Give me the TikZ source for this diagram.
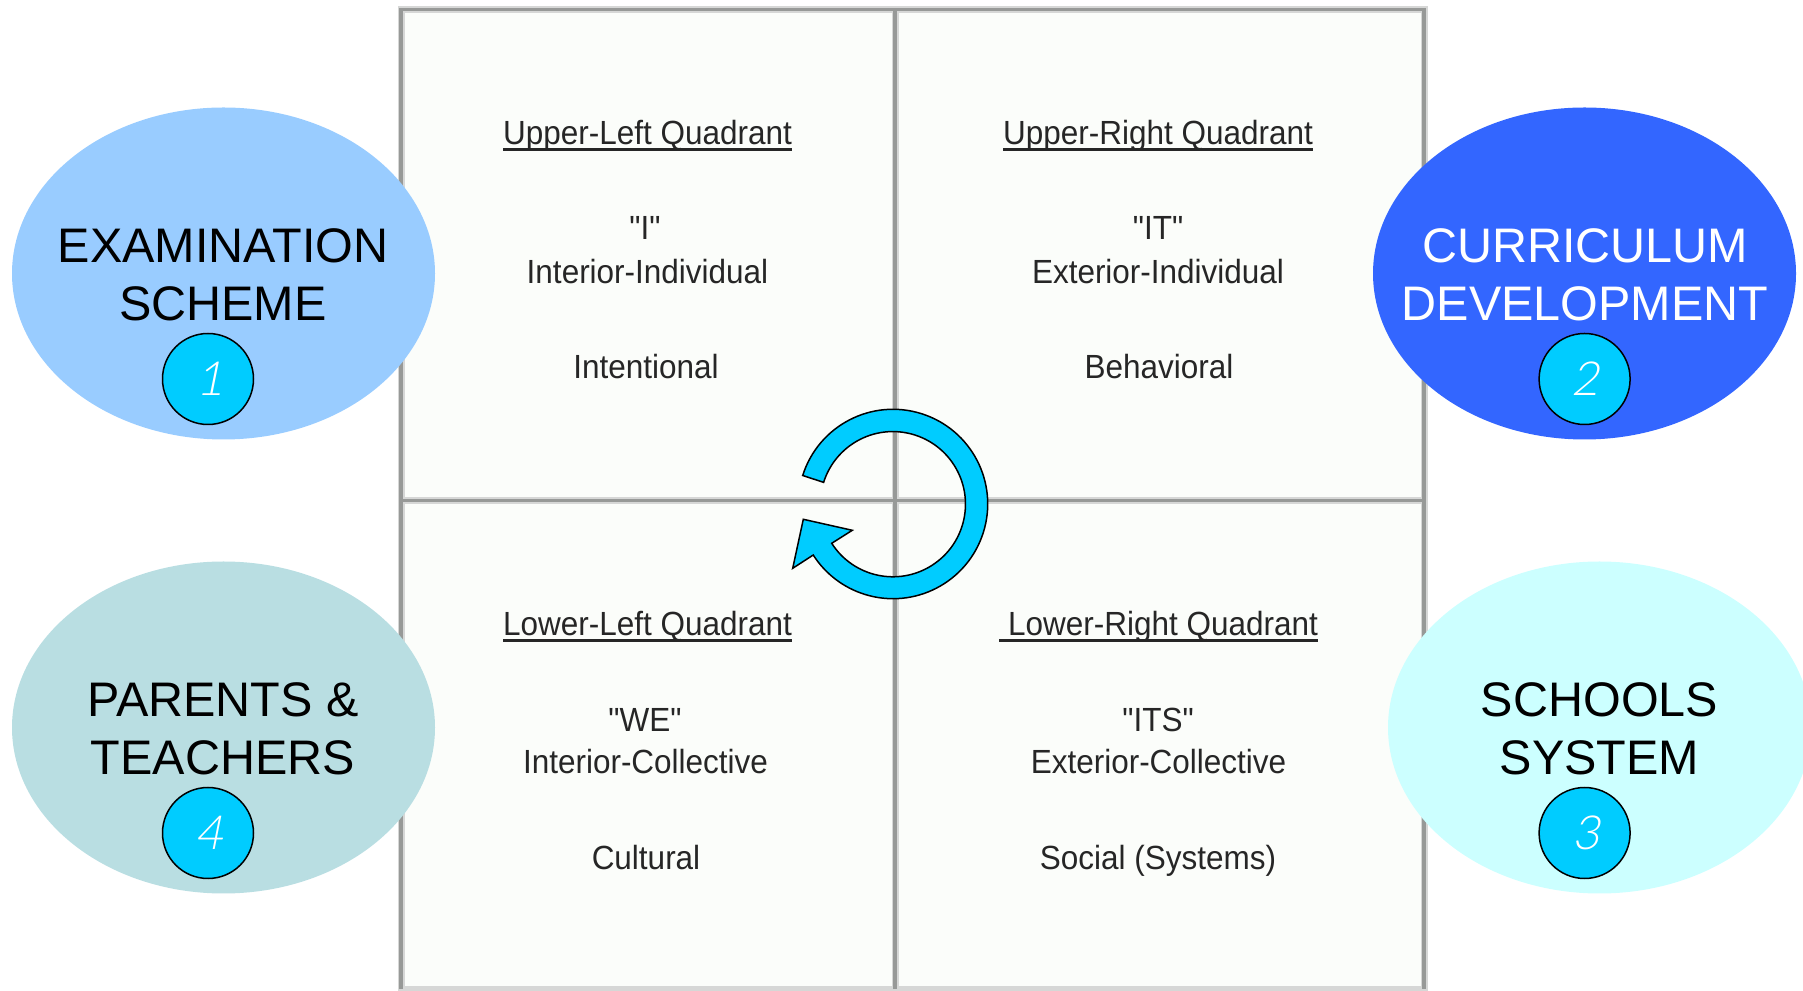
\documentclass[tikz,border=0pt]{standalone}
\usepackage{fontspec}
\setmainfont{Liberation Sans}
\newfontfamily\quadfont[FakeStretch=0.94]{Liberation Sans}
\newfontfamily\badgefont[FakeSlant=0.2]{Lato Light}
\usetikzlibrary{shapes.geometric}
\definecolor{gridhalo}{HTML}{D6D7D6}
\definecolor{gridgray}{HTML}{979997}
\definecolor{panel}{HTML}{FBFDFA}
\definecolor{quadtext}{HTML}{262626}
\definecolor{cyanbadge}{HTML}{00CCFF}
\definecolor{examblue}{HTML}{99CCFF}
\definecolor{currblue}{HTML}{3366FF}
\definecolor{schoolcyan}{HTML}{CCFFFF}
\definecolor{parentteal}{HTML}{B9DEE2}
\newsavebox{\qulbox}
\newcommand{\qul}[1]{\sbox{\qulbox}{#1}\rlap{\rule[-6.5pt]{\wd\qulbox}{3pt}}\usebox{\qulbox}}
\tikzset{
  gridwide/.style={draw=gridhalo,line width=7pt},
  gridline/.style={draw=gridgray,line width=3.4pt},
  blob/.style={ellipse,minimum width=423pt,minimum height=332pt,inner sep=0pt},
  blobtext/.style={anchor=base,inner sep=0pt,font=\fontsize{48.5}{58}\selectfont},
  badge/.style={circle,draw=black,line width=1.5pt,fill=cyanbadge,minimum size=91pt,inner sep=0pt},
  badgedigit/.style={inner sep=0pt,text=white,font=\fontsize{47}{50}\badgefont},
  quadlabel/.style={anchor=base,inner sep=0pt,text=quadtext,font=\fontsize{33.5}{40}\quadfont},
}
\begin{document}
\begin{tikzpicture}[x=1pt,y=1pt]
\useasboundingbox (0,0) rectangle (1803,990);
\clip (0,0) rectangle (1803,990);
% grid
\fill[panel] (401,1) rectangle (1424,980.5);
\draw[gridwide] (401,1) rectangle (1424,980.5) (895,1) -- (895,980.5) (401,489.5) -- (1424,489.5);
\draw[gridline] (401,1) -- (401,980.5) -- (1424,980.5) -- (1424,1) (895,1) -- (895,980.5) (401,489.5) -- (1424,489.5);
% quadrant labels
\node[quadlabel] (ult) at (647.5,845.5) {\qul{Upper-Left Quadrant}};
\node[quadlabel] (uli) at (645,750) {"I"};
\node[quadlabel] (uld) at (647.5,706.5) {Interior-Individual};
\node[quadlabel] (ulk) at (646,611.5) {Intentional};
\node[quadlabel] (urt) at (1158,845.5) {\qul{Upper-Right Quadrant}};
\node[quadlabel] (uri) at (1158,750) {"IT"};
\node[quadlabel] (urd) at (1158,706.5) {Exterior-Individual};
\node[quadlabel] (urk) at (1159,611.5) {Behavioral};
\node[quadlabel] (llt) at (647.5,354.5) {\qul{Lower-Left Quadrant}};
\node[quadlabel] (lli) at (645,258) {"WE"};
\node[quadlabel] (lld) at (645.5,216.5) {Interior-Collective};
\node[quadlabel] (llk) at (646,120) {Cultural};
\node[quadlabel] (lrt) at (1158.5,354.5) {\qul{\hspace{9pt}Lower-Right Quadrant}};
\node[quadlabel] (lri) at (1158,258) {"ITS"};
\node[quadlabel] (lrd) at (1158.5,216.5) {Exterior-Collective};
\node[quadlabel] (lrk) at (1158,120) {Social (Systems)};
% ellipses
\node[blob,fill=examblue] (exam) at (223.5,716.5) {};
\node[blob,fill=currblue] (curr) at (1584.5,716.5) {};
\node[blob,fill=schoolcyan] (school) at (1599.5,262.5) {};
\node[blob,fill=parentteal] (parent) at (223.5,262.5) {};
\node[blobtext] (exama) at (223,727) {EXAMINATION};
\node[blobtext] (examb) at (223,669) {SCHEME};
\node[blobtext,text=white] (curra) at (1585,727) {CURRICULUM};
\node[blobtext,text=white] (currb) at (1585,669) {DEVELOPMENT};
\node[blobtext] (schoola) at (1599.5,273.5) {SCHOOLS};
\node[blobtext] (schoolb) at (1599.5,215.5) {SYSTEM};
\node[blobtext] (parenta) at (223,273.5) {PARENTS \&};
\node[blobtext] (parentb) at (223,215.5) {TEACHERS};
\node[badge] (one) at (208,611) {};
\node[badge] (two) at (1584.6,611) {};
\node[badge] (three) at (1584.6,157) {};
\node[badge] (four) at (208,157) {};
\node[badgedigit] (onet) at (210,611) {1};
\node[badgedigit] (twot) at (1585.6,611) {2};
\node[badgedigit] (threet) at (1586.6,157) {3};
\node[badgedigit] (fourt) at (209,157) {4};
% cycle arrow
\coordinate (hub) at (893,486);
\fill[cyanbadge,draw=black,line width=1.5pt,line join=miter]
  (hub) ++(162.5:94.7) arc[start angle=162.5,end angle=-147.4,radius=94.7]
  -- (792.7,421.7) -- (803.3,470.7) -- (852.3,459.7) -- (831.7,446.7)
  arc[start angle=-147.4,end angle=162.5,radius=72.6] -- cycle;
\end{tikzpicture}
\end{document}
